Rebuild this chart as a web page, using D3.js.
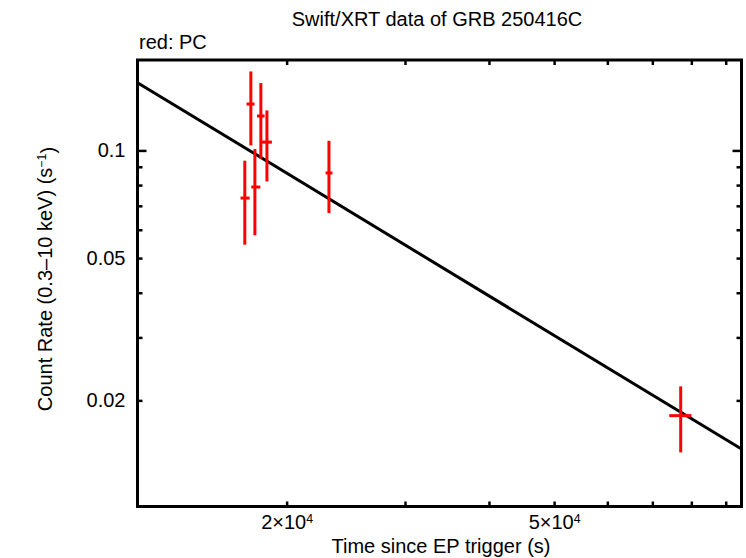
<!DOCTYPE html>
<html>
<head>
<meta charset="utf-8">
<script src="https://cdn.jsdelivr.net/npm/d3@7"></script>
<style>
  body { margin: 0; background: #fff; }
  svg { display: block; }
  text { font-family: "Liberation Sans", Arial, Helvetica, sans-serif; fill: #000; }
</style>
</head>
<body>
<div id="chart"></div>
<script>
// PC mode points: time (s), time range, count rate and its error range
let pcTime   = [17330, 17694, 17940, 18310, 18695, 23120, 77140];
let pcTimeLo = [17077, 17434, 17717, 18070, 18375, 22856, 74180];
let pcTimeHi = [17621, 17920, 18275, 18546, 19017, 23395, 80020];
let pcRate   = [0.0736, 0.1348, 0.0790, 0.1248, 0.1055, 0.0865, 0.01813];
let pcRateLo = [0.0545, 0.1033, 0.0579, 0.0948, 0.0819, 0.0668, 0.01431];
let pcRateHi = [0.0936, 0.1663, 0.1009, 0.1543, 0.1294, 0.1064, 0.02189];

// power-law fit, read at both ends of the plot
let fitTime = [12000, 95000];
let fitRate = [0.1547, 0.01462];

let xTicks = [20000, 30000, 40000, 50000, 60000, 70000, 80000, 90000];
let xLabels = {20000: "2", 50000: "5"};
let yTicks = [0.02, 0.03, 0.04, 0.05, 0.06, 0.07, 0.08, 0.09, 0.1];
let yLabels = {0.02: "0.02", 0.05: "0.05", 0.1: "0.1"};

let margin = {top: 60, right: 4.5, bottom: 51.5, left: 137.5};
let W = 746, H = 558;
let width = W - margin.left - margin.right;
let height = H - margin.top - margin.bottom;

let svg = d3.select("#chart").append("svg")
    .attr("width", W)
    .attr("height", H);

let g = svg.append("g")
    .attr("transform", `translate(${margin.left},${margin.top})`);

let x = d3.scaleLog().domain([12000, 95000]).range([0, width]);
let y = d3.scaleLog().domain([0.0101, 0.179]).range([height, 0]);

// axes (ticks point inward)
let fs = 20;
function isMajorY(d) { return Math.abs(d - 0.1) < 1e-9; }

let xBottom = g.append("g")
    .attr("transform", `translate(0,${height})`)
    .call(d3.axisBottom(x).tickValues(xTicks).tickSize(-5).tickPadding(8).tickFormat(""));
let xTop = g.append("g")
    .call(d3.axisTop(x).tickValues(xTicks).tickSize(-5).tickFormat(""));

let yLeft = g.append("g")
    .call(d3.axisLeft(y).tickValues(yTicks).tickSize(-5).tickPadding(12)
        .tickFormat(d => yLabels[d] || ""));
let yRight = g.append("g")
    .attr("transform", `translate(${width},0)`)
    .call(d3.axisRight(y).tickValues(yTicks).tickSize(-5).tickFormat(""));

yLeft.selectAll(".tick line").attr("x2", d => isMajorY(d) ? 9 : 5);
yRight.selectAll(".tick line").attr("x2", d => isMajorY(d) ? -9 : -5);

[xBottom, xTop, yLeft, yRight].forEach(a => {
    a.select(".domain").remove();
    a.selectAll(".tick line").attr("stroke", "#000").attr("stroke-width", 2.5);
    a.selectAll("text").attr("font-size", fs).attr("font-family", null);
});

// x tick labels like 2×10^4
xBottom.selectAll(".tick text").each(function(d) {
    let t = d3.select(this).text("");
    if (!xLabels[d]) return;
    t.append("tspan").text(xLabels[d] + "\u00d710");
    t.append("tspan").attr("dy", "-0.45em").attr("font-size", fs * 0.62).text("4");
});

// frame
g.append("rect")
    .attr("width", width)
    .attr("height", height)
    .attr("fill", "none")
    .attr("stroke", "#000")
    .attr("stroke-width", 3);

// fit line
let fit = fitTime.map((t, i) => [t, fitRate[i]]);
g.append("path")
    .datum(fit)
    .attr("fill", "none")
    .attr("stroke", "#000")
    .attr("stroke-width", 3)
    .attr("d", d3.line().x(d => x(d[0])).y(d => y(d[1])));

// error bars
let pts = pcTime.map((t, i) => ({t: t, tl: pcTimeLo[i], th: pcTimeHi[i],
    r: pcRate[i], rl: pcRateLo[i], rh: pcRateHi[i]}));

let eb = g.append("g").attr("stroke", "#ff0000").attr("stroke-width", 3);
eb.selectAll(".v").data(pts).enter().append("line")
    .attr("x1", d => x(d.t)).attr("x2", d => x(d.t))
    .attr("y1", d => y(d.rl)).attr("y2", d => y(d.rh));
eb.selectAll(".h").data(pts).enter().append("line")
    .attr("x1", d => x(d.tl)).attr("x2", d => x(d.th))
    .attr("y1", d => y(d.r)).attr("y2", d => y(d.r));

// titles
svg.append("text")
    .attr("x", 437).attr("y", 26)
    .attr("text-anchor", "middle")
    .attr("font-size", fs)
    .text("Swift/XRT data of GRB 250416C");

svg.append("text")
    .attr("x", 139).attr("y", 49)
    .attr("font-size", fs)
    .text("red: PC");

svg.append("text")
    .attr("x", 441).attr("y", 553)
    .attr("text-anchor", "middle")
    .attr("font-size", fs)
    .text("Time since EP trigger (s)");

let yl = svg.append("text")
    .attr("transform", "translate(51.5,279) rotate(-90)")
    .attr("text-anchor", "middle")
    .attr("font-size", fs);
yl.append("tspan").text("Count Rate (0.3\u201310 keV) (s");
yl.append("tspan").attr("dy", "-0.45em").attr("font-size", fs * 0.62).text("\u22121");
yl.append("tspan").attr("dy", "0.45em").text(")");
</script>
</body>
</html>
